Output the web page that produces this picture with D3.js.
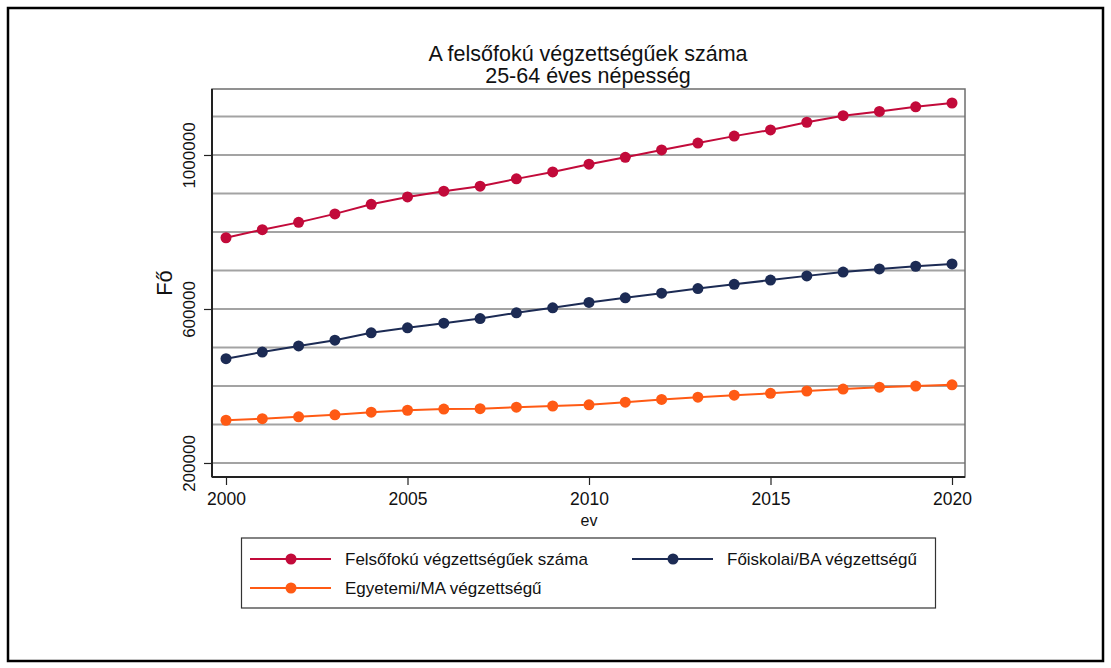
<!DOCTYPE html>
<html>
<head>
<meta charset="utf-8">
<script src="https://cdn.jsdelivr.net/npm/d3@7"></script>
<style>
  body { margin: 0; background: #fff; }
  text { font-family: "Liberation Sans", Arial, sans-serif; fill: #111; }
</style>
</head>
<body>
<svg id="chart" width="1111" height="668"></svg>
<script>
const years = d3.range(2000, 2021)

const osszes = [785000, 806000, 825000, 847000, 872000, 891000, 906000, 919000, 938000, 956000,
  976000, 994000, 1013000, 1031000, 1049000, 1065000, 1085000, 1102000, 1113000, 1125000, 1135000]
const foiskolai = [471000, 488000, 504000, 519000, 538000, 551000, 563000, 575000, 590000, 603000,
  617000, 629000, 641000, 653000, 664000, 675000, 686000, 696000, 704000, 711000, 717000]
const egyetemi = [311000, 315000, 320000, 325000, 332000, 337000, 340000, 341000, 345000, 348000,
  351000, 358000, 365000, 371000, 376000, 381000, 387000, 392000, 397000, 400000, 403000]

const seriesNames = ["Felsőfokú végzettségűek száma", "Főiskolai/BA végzettségű", "Egyetemi/MA végzettségű"]
const colors = ["#c20a3a", "#1c2b54", "#ff5a14"]
const xTicks = [2000, 2005, 2010, 2015, 2020]
const yTicks = [200000, 600000, 1000000]
const gridValues = d3.range(200000, 1100001, 100000)

const series = [osszes, foiskolai, egyetemi].map((vals, i) => ({
  name: seriesNames[i], color: colors[i],
  points: vals.map((v, j) => ({ year: years[j], value: v }))
}))

const svg = d3.select("#chart")

// outer frame
svg.append("rect")
  .attr("x", 8).attr("y", 8).attr("width", 1095).attr("height", 653)
  .attr("fill", "none").attr("stroke", "#000").attr("stroke-width", 2.5)

const plot = { left: 212, right: 965, top: 89, bottom: 477 }

const x = d3.scaleLinear().domain([2000, 2020]).range([226, 952])
const y = d3.scaleLinear().domain([163600, 1171400]).range([plot.bottom, plot.top])

// grid
svg.append("g")
  .selectAll("line")
  .data(gridValues)
  .join("line")
  .attr("x1", plot.left).attr("x2", plot.right)
  .attr("y1", d => y(d)).attr("y2", d => y(d))
  .attr("stroke", "#a3a3a3").attr("stroke-width", 2)

// plot border
svg.append("rect")
  .attr("x", plot.left).attr("y", plot.top)
  .attr("width", plot.right - plot.left).attr("height", plot.bottom - plot.top)
  .attr("fill", "none").attr("stroke", "#6e6e6e").attr("stroke-width", 1.5)

// axes
const xAxis = svg.append("g")
  .attr("transform", `translate(0, ${plot.bottom})`)
  .call(d3.axisBottom(x).tickValues(xTicks).tickFormat(d3.format("d")).tickSize(8).tickPadding(8).tickSizeOuter(0))
xAxis.select(".domain").attr("d", `M${plot.left},0H${plot.right}`).attr("stroke", "#222").attr("stroke-width", 2)
xAxis.selectAll(".tick line").attr("stroke", "#222").attr("stroke-width", 1.2)
xAxis.selectAll("text").attr("font-size", 17.5).attr("fill", "#111")

const yAxis = svg.append("g")
  .attr("transform", `translate(${plot.left}, 0)`)
  .call(d3.axisLeft(y).tickValues(yTicks).tickFormat(d3.format("d")).tickSize(8).tickSizeOuter(0))
yAxis.select(".domain").attr("d", `M0,${plot.top}V${plot.bottom}`).attr("stroke", "#222").attr("stroke-width", 2)
yAxis.selectAll(".tick line").attr("stroke", "#222").attr("stroke-width", 1.2)
yAxis.selectAll("text")
  .attr("font-size", 17).attr("fill", "#111")
  .attr("x", null).attr("dy", null)
  .attr("text-anchor", "middle")
  .attr("transform", "translate(-17, 0) rotate(-90)")

// series
const line = d3.line().x(d => x(d.year)).y(d => y(d.value))
series.forEach(s => {
  svg.append("path")
    .datum(s.points)
    .attr("d", line)
    .attr("fill", "none").attr("stroke", s.color).attr("stroke-width", 2)
  svg.append("g")
    .selectAll("circle")
    .data(s.points)
    .join("circle")
    .attr("cx", d => x(d.year)).attr("cy", d => y(d.value))
    .attr("r", 5.5).attr("fill", s.color)
})

// titles
svg.append("text").attr("x", 588).attr("y", 61).attr("text-anchor", "middle")
  .attr("font-size", 21.5).text("A felsőfokú végzettségűek száma")
svg.append("text").attr("x", 588).attr("y", 83).attr("text-anchor", "middle")
  .attr("font-size", 21.5).text("25-64 éves népesség")
svg.append("text").attr("transform", "translate(172, 283) rotate(-90)").attr("text-anchor", "middle")
  .attr("font-size", 22).text("Fő")
svg.append("text").attr("x", 589).attr("y", 526).attr("text-anchor", "middle")
  .attr("font-size", 16).text("ev")

// legend
const legend = svg.append("g")
legend.append("rect")
  .attr("x", 241.5).attr("y", 538).attr("width", 694).attr("height", 70)
  .attr("fill", "#fff").attr("stroke", "#333").attr("stroke-width", 1.2)

const legendPos = [
  { lx: 250, ly: 559 },
  { lx: 632, ly: 559 },
  { lx: 250, ly: 588 }
]
series.forEach((s, i) => {
  const p = legendPos[i]
  const g = legend.append("g").attr("transform", `translate(${p.lx}, ${p.ly})`)
  g.append("line").attr("x1", 0).attr("x2", 81).attr("y1", 0).attr("y2", 0)
    .attr("stroke", s.color).attr("stroke-width", 2)
  g.append("circle").attr("cx", 41).attr("cy", 0).attr("r", 5.5).attr("fill", s.color)
  g.append("text").attr("x", 95).attr("y", 0).attr("dy", "0.35em")
    .attr("font-size", 17).text(s.name)
})
</script>
</body>
</html>
